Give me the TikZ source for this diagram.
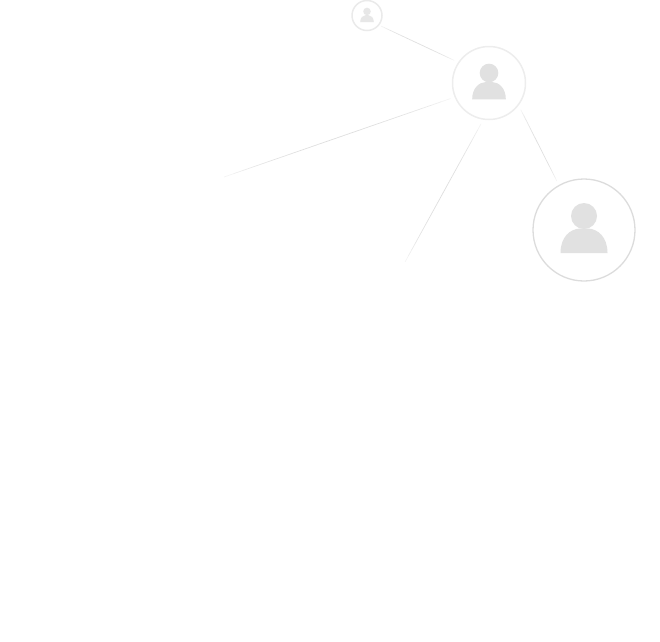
\documentclass[tikz,border=0pt]{standalone}
\usepackage{tikz}
\usetikzlibrary{calc,positioning}
\definecolor{ringgray}{RGB}{220,220,220}
\definecolor{icongray}{RGB}{225,225,225}
\definecolor{linkgray}{RGB}{222,222,222}
\newcommand{\fadelink}[2]{
    \foreach \t in {0,1,...,23} {
        \pgfmathsetmacro{\shadeval}{100*sin(180*(\t+0.5)/24)^0.4}
        \draw[link, linkgray!\shadeval!white] ($(#1)!\t/24!(#2)$) -- ($(#1)!{(\t+1)/24}!(#2)$);
    }
}

\begin{document}
\begin{tikzpicture}[x=1pt, y=-1pt,
    user/.style={circle, draw=ringgray, fill=white, inner sep=0pt},
    link/.style={line width=0.7pt},
    person/.pic={
        \fill[icongray] (0,-14) circle (13);
        \fill[icongray] (-23.5,23) .. controls (-23.5,7) and (-14,-1) .. (-4,-1.5)
            -- (4,-1.5) .. controls (14,-1) and (23.5,7) .. (23.5,23) -- cycle;
    }]

    \useasboundingbox (0,0) rectangle (660,641);

    % Users
    \node[user, minimum size=30pt, draw=ringgray!60, line width=1.5pt, outer sep=2.5pt] (small) at (367,15.5) {};
    \node[user, minimum size=73pt, draw=ringgray!50, line width=1.5pt, outer sep=5pt] (middle) at (489,83) {};
    \node[user, minimum size=102pt, line width=1.3pt, outer sep=5pt] (large) at (584,230) {};

    % Free ends
    \coordinate (farleft) at (224,177);
    \coordinate (fardown) at (405,262);

    % Connections
    \fadelink{small.-37}{middle.147.5}
    \fadelink{middle.-40}{large.119}
    \fadelink{middle.202.5}{farleft}
    \fadelink{middle.259}{fardown}

    % Icons
    \pic[scale=0.29, opacity=0.8] at (small) {person};
    \pic[scale=0.716] at (middle) {person};
    \pic at (large) {person};
\end{tikzpicture}
\end{document}
